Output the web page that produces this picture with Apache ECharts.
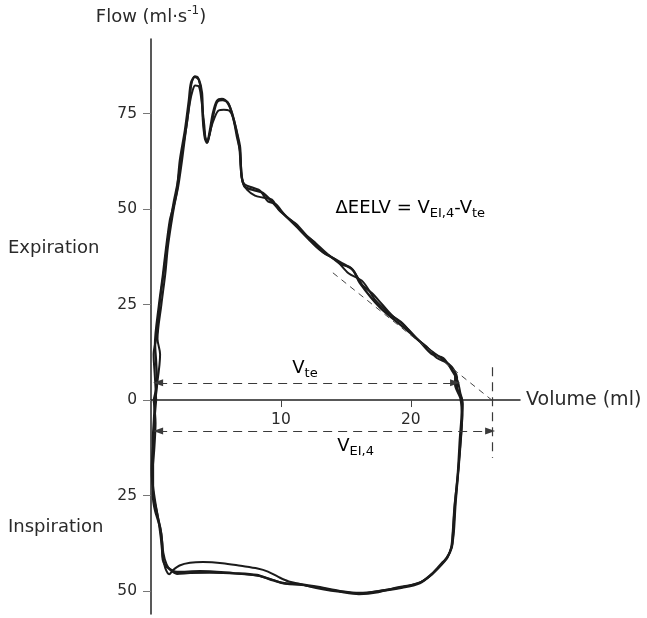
<!DOCTYPE html>
<html><head><meta charset="utf-8">
<script src="https://cdn.jsdelivr.net/npm/echarts@6/dist/echarts.min.js"></script>
<style>html,body{margin:0;padding:0;background:#fff}#c{width:647px;height:618px}</style>
</head><body><div id="c"></div>
<script>
// ---- data (volume ml, flow ml/s; inspiration negative) ----
const xTicks = [10, 20];
const yTicks = [-50, -25, 0, 25, 50, 75];

const loopA = [[0.31,0],[0.46,4.5],[0.38,10.5],[0.31,14.4],[0.62,24.9],[0.92,32.7],[1.15,39.3],[1.46,47.1],[1.69,50],[2.0,55],[2.23,62.8],[2.62,70.7],[2.92,78.5],[3.08,83],[3.38,84.6],[3.69,83.8],[3.92,80.4],[4.0,73.3],[4.15,68.6],[4.31,67.3],[4.54,70.7],[4.77,75.1],[5.08,78.3],[5.46,78.8],[5.92,77.7],[6.23,75.1],[6.62,69.9],[6.85,66.2],[6.92,61],[7.0,58.1],[7.23,55.8],[7.85,55],[8.62,54.2],[9.69,50.5],[11.23,45.3],[13.0,39.3],[14.54,36.1],[15.54,34],[16.08,30.6],[17.6,24.3],[19.7,18.3],[21.46,13.1],[22.77,9.7],[23.54,6],[23.54,3.4],[23.92,0],[23.92,-2.6],[23.77,-10.5],[23.62,-19.1],[23.38,-28],[23.23,-35.9],[23.15,-38.5],[22.77,-41.4],[22.46,-42.4],[21.69,-45.3],[20.69,-47.9],[19.15,-49.2],[17.62,-50],[16.08,-50.5],[14.54,-50],[13.0,-49],[11.46,-48.2],[10.15,-47.9],[9.15,-46.9],[8.15,-45.8],[6.31,-45.3],[3.77,-44.8],[2.0,-45],[1.23,-43.7],[0.92,-41.9],[0.85,-37.4],[0.69,-33.2],[0.31,-28.8],[0.15,-24.9],[0.15,-18.3],[0.15,-10.5],[0.23,-5.2],[0.31,0]];

const loopB = [[0.2,0],[0.5,5],[0.7,12],[0.5,16],[0.8,25],[1.1,33],[1.3,40],[1.6,47],[1.8,51],[2.1,56],[2.4,63],[2.7,71],[3.0,78],[3.2,81],[3.4,82.3],[3.7,82],[3.9,78],[4.1,72],[4.2,68.5],[4.35,67.5],[4.6,71],[4.9,74],[5.2,75.8],[5.6,76],[6.0,75.8],[6.3,74],[6.6,69],[6.85,65],[6.95,60],[7.05,57],[7.4,55],[8.0,53.5],[8.6,53],[9.3,52.5],[9.9,49.5],[10.8,47],[11.6,44],[12.5,41.5],[13.3,38.5],[14.2,36.8],[15.2,33.2],[16.3,31],[17.3,26],[18.4,22.5],[19.5,19.5],[20.5,16],[21.6,12],[22.5,11],[23.2,7.5],[23.6,5],[23.8,2],[24.0,-1],[23.9,-8],[23.7,-17],[23.45,-27],[23.3,-35],[23.1,-39],[22.6,-42],[21.6,-45.7],[20.5,-48],[19.0,-49],[17.5,-50.3],[16,-50.8],[14.5,-50.2],[13.2,-49.5],[12.2,-48.8],[11.3,-48],[10.6,-47.5],[9.8,-46.3],[9.0,-44.9],[8.2,-44.1],[6.9,-43.4],[5.5,-42.7],[4.0,-42.4],[3.0,-42.6],[2.2,-43.3],[1.7,-44.5],[1.4,-45.6],[1.1,-44],[0.9,-41],[0.75,-36],[0.55,-31],[0.3,-26],[0.1,-20],[0.25,-13],[0.35,-6],[0.2,0]];

const loopC = [[0.4,0],[0.3,6],[0.2,12],[0.45,17],[0.7,26],[1.0,34],[1.25,41],[1.55,48],[1.75,52],[2.05,57],[2.35,64],[2.75,72],[3.0,79],[3.1,82.5],[3.35,84.7],[3.6,84.5],[3.85,81],[4.0,74],[4.15,69],[4.3,67.8],[4.55,70],[4.8,74.5],[5.1,78],[5.5,78.5],[5.9,78],[6.2,75.5],[6.55,71],[6.8,66],[6.9,61],[7.0,58],[7.2,56.5],[7.9,55.5],[8.4,54.8],[9.0,52],[9.6,51.3],[10.4,48],[11.2,46],[12.0,43],[12.7,41],[13.5,38.5],[14.6,35.5],[15.4,34.6],[16.3,30],[17.0,28],[17.8,25],[18.6,22],[19.4,20],[20.3,16.5],[21.2,14],[22.0,11],[22.9,9.5],[23.4,7],[23.4,4],[23.8,0.5],[23.95,-4],[23.8,-12],[23.6,-20],[23.35,-28],[23.2,-35.5],[23.1,-38.5],[22.8,-41.3],[21.8,-45],[20.8,-47.6],[19.3,-49],[17.8,-49.8],[16.2,-50.6],[14.6,-50.1],[13.1,-49.2],[11.6,-48.4],[10.4,-48.1],[9.3,-47],[8.2,-46],[6.5,-45.4],[4.5,-45.2],[3.0,-45.3],[2.0,-45.5],[1.5,-44.5],[1.2,-43],[0.95,-40],[0.8,-35],[0.5,-30],[0.2,-25],[0.05,-18],[0.2,-10],[0.3,-4],[0.4,0]];

// annotation geometry (data units)
const vteLine = [[0.55, 4.5], [23.4, 4.5]];
const veiLine = [[0.55, -8.1], [26.1, -8.1]];
const vertLine = [[26.23, 8.6], [26.23, -15.2]];
const diagLine = [[14.0, 33.3], [26.23, 0]];
const eelvAt = [14.2, 50.3];
const vteLabelAt = [11.85, 8.4];
const veiLabelAt = [15.75, -12.0];
const yRange = [-56, 94.5];
const xRange = [0, 28.4];

const FONT = '"DejaVu Sans", "Open Sans", sans-serif';
const TXT = '#2a2a2a';
const sub = {fontSize: 13, fontFamily: FONT, color: TXT, verticalAlign: 'bottom', lineHeight: 12};
const main = {fontSize: 18, fontFamily: FONT, color: TXT, lineHeight: 25};

const chart = echarts.init(document.getElementById('c'), null, {renderer: 'canvas'});
const loopSeries = (d, w) => ({type: 'line', data: d, showSymbol: false, smooth: 0.3, silent: true,
  lineStyle: {color: '#1b1b1b', width: w}, z: 3});
const dashed = {color: '#3a3a3a', width: 1.2, type: [9, 6]};

chart.setOption({
  animation: false,
  backgroundColor: '#fff',
  grid: {left: 151, right: 127, top: 39, bottom: 4, containLabel: false, outerBoundsMode: 'none'},
  xAxis: {
    type: 'value', min: xRange[0], max: xRange[1],
    name: 'Volume (ml)', nameLocation: 'end', nameGap: 6,
    nameTextStyle: {fontSize: 19, fontFamily: FONT, color: TXT},
    axisLine: {onZero: true, lineStyle: {color: '#222', width: 1.5}},
    axisTick: {show: true, customValues: xTicks, length: 7, lineStyle: {color: '#444'}},
    axisLabel: {show: false},
    splitLine: {show: false}
  },
  yAxis: {
    type: 'value', min: yRange[0], max: yRange[1],
    axisLine: {lineStyle: {color: '#222', width: 1.5}},
    axisTick: {show: true, customValues: yTicks, length: 8, lineStyle: {color: '#777'}},
    axisLabel: {customValues: yTicks, formatter: v => String(Math.abs(v)), fontSize: 15.5, fontFamily: FONT, color: TXT, margin: 14},
    splitLine: {show: false}
  },
  series: [
    Object.assign(loopSeries(loopA, 2.4), {
      markPoint: {
        silent: true, symbol: 'circle', symbolSize: 1, itemStyle: {color: 'rgba(0,0,0,0)'},
        data: xTicks.map(v => ({coord: [v, 0],
          label: {show: true, position: 'bottom', distance: 11, formatter: String(v),
            fontSize: 15.5, fontFamily: FONT, color: TXT}}))
      },
      markLine: {
        silent: true, symbol: 'none', animation: false, precision: 3,
        label: {show: false},
        data: [
          [{coord: vteLine[0], symbol: 'triangle', symbolSize: [7, 10], lineStyle: dashed},
           {coord: vteLine[1], symbol: 'triangle', symbolSize: [7, 10]}],
          [{coord: veiLine[0], symbol: 'triangle', symbolSize: [7, 10], lineStyle: dashed},
           {coord: veiLine[1], symbol: 'triangle', symbolSize: [7, 10]}],
          [{coord: vertLine[0], symbol: 'none', lineStyle: dashed},
           {coord: vertLine[1], symbol: 'none'}],
          [{coord: diagLine[0], symbol: 'none', lineStyle: {color: '#444', width: 1, type: [6, 5]}},
           {coord: diagLine[1], symbol: 'none'}]
        ]
      }
    }),
    loopSeries(loopB, 2.0),
    loopSeries(loopC, 2.0)
  ]
});

const px = p => chart.convertToPixel({gridIndex: 0}, p);
const axisTopPx = px([0, yRange[1]]);
const eelvPx = px(eelvAt);
const vtePx = px(vteLabelAt);
const veiPx = px(veiLabelAt);
chart.setOption({
  graphic: [
    {type: 'text', x: axisTopPx[0], y: axisTopPx[1] - 10, style: {text: '{m|Flow (ml·s}{sup|-1}{m|)}', align: 'center', verticalAlign: 'bottom',
      rich: {m: {fontSize: 18, fontFamily: FONT, fill: TXT, lineHeight: 24},
             sup: {fontSize: 12, fontFamily: FONT, fill: TXT, verticalAlign: 'top', lineHeight: 12}}}},
    {type: 'text', left: 8, top: 239, style: {text: 'Expiration', font: '18px ' + FONT, fill: TXT}},
    {type: 'text', left: 8, top: 518, style: {text: 'Inspiration', font: '18px ' + FONT, fill: TXT}},
    {type: 'text', x: eelvPx[0], y: eelvPx[1], style: {text: '{m|ΔEELV = V}{s|EI,4}{m|-V}{s|te}', verticalAlign: 'middle', rich: {m: main, s: sub}}},
    {type: 'text', x: vtePx[0], y: vtePx[1], style: {text: '{m|V}{s|te}', align: 'center', verticalAlign: 'middle', rich: {m: main, s: sub}}},
    {type: 'text', x: veiPx[0], y: veiPx[1], style: {text: '{m|V}{s|EI,4}', align: 'center', verticalAlign: 'middle', rich: {m: main, s: sub}}}
  ]
});
</script></body></html>
